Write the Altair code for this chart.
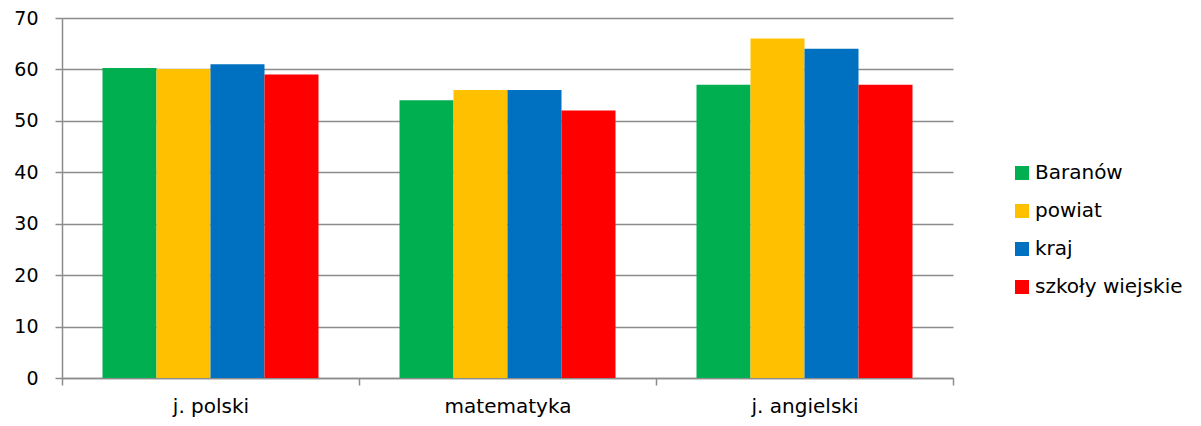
import altair as alt
import pandas as pd

subjects = ["j. polski", "matematyka", "j. angielski"]
series = ["Baranów", "powiat", "kraj", "szkoły wiejskie"]
baranow = [60.3, 54.0, 57.0]
powiat = [60.1, 56.0, 66.0]
kraj = [61.0, 56.0, 64.0]
wiejskie = [59.0, 52.0, 57.0]
colors = ["#00B050", "#FFC000", "#0070C0", "#FF0000"]
y_ticks = [0, 10, 20, 30, 40, 50, 60, 70]

rows = []
for s, vals in zip(series, [baranow, powiat, kraj, wiejskie]):
    for subj, v in zip(subjects, vals):
        rows.append({"przedmiot": subj, "seria": s, "wynik": v})
df = pd.DataFrame(rows)

FONT = "DejaVu Sans"
GRAY = "#8c8c8c"

chart = alt.Chart(df).mark_bar().encode(
    x=alt.X("przedmiot:N", sort=subjects,
            scale=alt.Scale(paddingInner=0, paddingOuter=0),
            axis=alt.Axis(title=None, labelAngle=0, tickBand="extent",
                          grid=False, domainColor=GRAY, domainWidth=1.5,
                          tickColor=GRAY, tickWidth=1.5, tickSize=7,
                          labelFont=FONT, labelFontSize=20, labelColor="#000000",
                          labelPadding=11)),
    xOffset=alt.XOffset("seria:N", sort=series,
                        scale=alt.Scale(paddingInner=0, paddingOuter=0.75)),
    y=alt.Y("wynik:Q", scale=alt.Scale(domain=[0, 70], nice=False),
            axis=alt.Axis(title=None, values=y_ticks, grid=True,
                          gridColor=GRAY, gridWidth=1.5,
                          domainColor=GRAY, domainWidth=1.5,
                          tickColor=GRAY, tickWidth=1.5, tickSize=7,
                          labelFont=FONT, labelFontSize=19, labelColor="#000000",
                          labelPadding=17)),
    color=alt.Color("seria:N", sort=series,
                    scale=alt.Scale(domain=series, range=colors),
                    legend=alt.Legend(title=None, orient="none",
                                      legendX=950, legendY=145,
                                      symbolType="square", symbolSize=196,
                                      symbolStrokeWidth=0, symbolOpacity=1,
                                      labelFont=FONT, labelFontSize=20,
                                      labelColor="#000000", labelOffset=3,
                                      labelLimit=300, rowPadding=18)),
).properties(
    width=891, height=360,
    autosize=alt.AutoSizeParams(type="none"),
    padding={"left": 54, "top": 10, "right": 240, "bottom": 40},
).configure_view(stroke=None)

chart.save("out.html", embed_options={"renderer": "svg", "actions": False})
